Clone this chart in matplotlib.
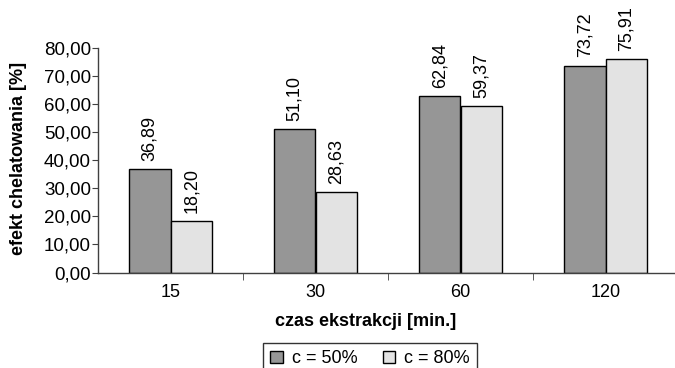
import matplotlib
matplotlib.use("Agg")
import matplotlib.pyplot as plt
import numpy as np

plt.rcParams['font.family'] = ['Liberation Sans', 'DejaVu Sans']

categories = ['15', '30', '60', '120']
c50 = [36.89, 51.10, 62.84, 73.72]
c80 = [18.20, 28.63, 59.37, 75.91]
series_names = ['c = 50%', 'c = 80%']
y_ticks = [0, 10, 20, 30, 40, 50, 60, 70, 80]

fs = 13

fig = plt.figure(figsize=(6.75, 3.68), dpi=100)
ax = fig.add_axes([98 / 675, 1 - 272.5 / 368, 1 - 98 / 675, (272.5 - 48) / 368])

x = np.arange(len(categories))
w = 1 / 3.5  # excel style: gap width 150%
b1 = ax.bar(x - w / 2, c50, w, color='#969696', edgecolor='black', linewidth=1, label=series_names[0])
b2 = ax.bar(x + w / 2, c80, w, color='#e3e3e3', edgecolor='black', linewidth=1, label=series_names[1])

for bars, vals in ((b1, c50), (b2, c80)):
    for rect, v in zip(bars, vals):
        ax.annotate(f'{v:.2f}'.replace('.', ','),
                    (rect.get_x() + rect.get_width() / 2, v),
                    xytext=(0, 6), textcoords='offset points',
                    rotation=90, ha='center', va='bottom', fontsize=fs)

ax.set_ylim(0, 80)
ax.set_xlim(-0.5, 3.5 - 3 / 145)
ax.set_yticks(y_ticks)
ax.set_yticklabels([f'{t:.2f}'.replace('.', ',') for t in y_ticks], fontsize=13.5)
ax.set_xticks(x)
ax.set_xticklabels(categories, fontsize=fs)
ax.set_xticks(np.arange(0.5, 3.5, 1), minor=True)
ax.tick_params(axis='x', which='major', length=0, pad=8)
ax.tick_params(axis='x', which='minor', length=5, direction='out', color='#404040')
ax.tick_params(axis='y', length=4, direction='out', color='#404040', pad=1)

for s in ('top', 'right'):
    ax.spines[s].set_visible(False)
for s in ('left', 'bottom'):
    ax.spines[s].set_color('#404040')
    ax.spines[s].set_linewidth(1)

# axis titles sit centred on the chart area, not on the plot area
fig.text(19 / 675, 1 - 158 / 368, 'efekt chelatowania [%]', rotation=90,
         ha='center', va='center', fontsize=fs, fontweight='bold')
fig.text(366 / 675, 1 - 322 / 368, 'czas ekstrakcji [min.]',
         ha='center', va='center', fontsize=fs, fontweight='bold')

# legend box runs off the bottom edge of the figure
leg = fig.legend(loc='upper center', bbox_to_anchor=(370 / 675, 1 - 343 / 368),
                 ncol=2, fontsize=fs, frameon=True, fancybox=False,
                 handlelength=0.7, handleheight=0.7, handletextpad=0.5,
                 columnspacing=1.4, borderpad=0.4, borderaxespad=0)
leg.get_frame().set_edgecolor('black')
leg.get_frame().set_linewidth(1)

fig.savefig('out.png', dpi=100)
